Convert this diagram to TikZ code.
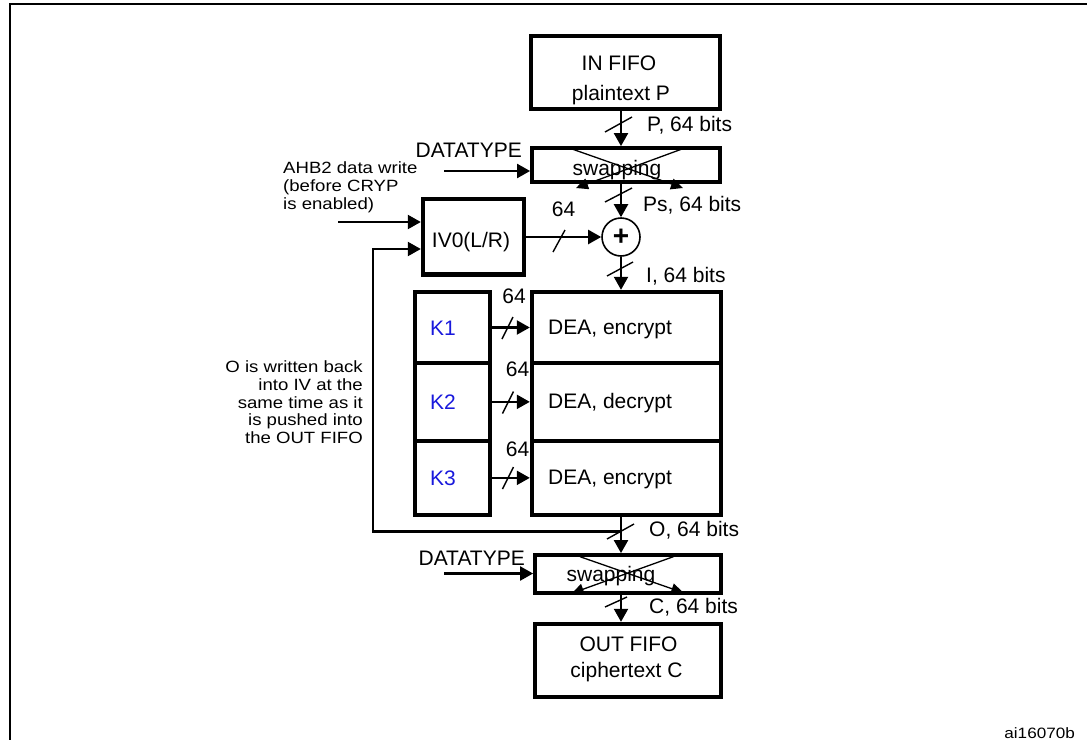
\documentclass[tikz,border=0pt]{standalone}
\usepackage{fontspec}
\setmainfont{Liberation Sans}
\newfontfamily\stretchfont[FakeStretch=1.14]{Liberation Sans}
\usetikzlibrary{arrows.meta}
\definecolor{kblue}{RGB}{25,25,220}
\newcommand{\bigtxt}{\fontsize{21}{25}\selectfont}
\newcommand{\smalltxt}{\stretchfont\fontsize{16.3}{17.9}\selectfont}
\newcommand{\tinytxt}{\stretchfont\fontsize{15}{17}\selectfont}
\begin{document}
\begin{tikzpicture}[x=1pt,y=-1pt,
  box/.style={draw, line width=4.4pt, inner sep=0pt},
  arr/.style={line width=2.2pt, -{Triangle[length=13pt,width=14pt]}},
  thinarr/.style={line width=1.3pt, -{Triangle[length=12pt,width=11pt]}},
  wire/.style={line width=2.2pt},
  slash/.style={line width=1.4pt},
  lbl/.style={font=\bigtxt, inner sep=0pt},
  klbl/.style={lbl, text=kblue, anchor=base}]
\useasboundingbox (0,0) rectangle (1087,739);
\begin{scope}
\clip (0,0) rectangle (1087,739);
\draw[line width=2.5pt] (10,4) rectangle (1110,760);
\end{scope}
% main column x
\coordinate (xm) at (621,0);
% boxes
\node[box, minimum width=189pt, minimum height=73pt] (infifo) at (625.5,72.5) {};
\node[box, line width=3.8pt, minimum width=188pt, minimum height=34pt] (swap1) at (626,165) {};
\node[box, minimum width=101pt, minimum height=75.5pt] (iv) at (473.5,236.75) {};
\node[draw, line width=1.6pt, circle, minimum size=38pt, inner sep=0pt] (xor) at (621,237) {};
\node[font=\fontsize{28}{28}\selectfont\bfseries, inner sep=0pt] (plus) at (xor.center) {+};
\node[box, minimum width=75pt, minimum height=71pt] (k1) at (452.5,327.5) {};
\node[box, minimum width=75pt, minimum height=77.7pt] (k2) at (452.5,401.85) {};
\node[box, minimum width=75pt, minimum height=74.3pt] (k3) at (452.5,477.85) {};
\node[box, minimum width=189pt, minimum height=71pt] (d1) at (626.5,327.5) {};
\node[box, minimum width=189pt, minimum height=77.7pt] (d2) at (626.5,401.85) {};
\node[box, minimum width=189pt, minimum height=74.3pt] (d3) at (626.5,477.85) {};
\node[box, line width=3.8pt, minimum width=186pt, minimum height=38pt] (swap2) at (628,574) {};
\node[box, minimum width=186pt, minimum height=73pt] (outfifo) at (628,660.5) {};
% texts
\node[lbl, anchor=base] (in1) at (619,70) {IN FIFO};
\node[lbl, anchor=base] (in2) at (621,100.5) {plaintext P};
\node[lbl, anchor=base west] (lP) at (647,131.5) {P, 64 bits};
\node[lbl, anchor=base east] (dt1) at (522,157) {DATATYPE};
\node[lbl, anchor=base] (sw1) at (617,175) {swapping};
\node[lbl, anchor=base west] (lPs) at (643,211) {Ps, 64 bits};
\node[lbl, anchor=base] (l64a) at (563.5,216) {64};
\node[lbl, anchor=base] (ivt) at (471,247) {IV0(L/R)};
\node[lbl, anchor=base west] (lI) at (646,282.5) {I, 64 bits};
\node[klbl] (k1t) at (443,335) {K1};
\node[klbl] (k2t) at (443,409) {K2};
\node[klbl] (k3t) at (443,485) {K3};
\node[lbl, anchor=base west] (d1t) at (548,334.5) {DEA, encrypt};
\node[lbl, anchor=base west] (d2t) at (548,408.5) {DEA, decrypt};
\node[lbl, anchor=base west] (d3t) at (548,484) {DEA, encrypt};
\node[lbl, anchor=base] (l64b) at (514,303) {64};
\node[lbl, anchor=base] (l64c) at (517.5,376) {64};
\node[lbl, anchor=base] (l64d) at (517.5,456) {64};
\node[lbl, anchor=base west] (lO) at (649,536) {O, 64 bits};
\node[lbl, anchor=base east] (dt2) at (525,565) {DATATYPE};
\node[lbl, anchor=base] (sw2) at (611,581.5) {swapping};
\node[lbl, anchor=base west] (lC) at (649,613) {C, 64 bits};
\node[lbl, anchor=base] (out1) at (628.5,651) {OUT FIFO};
\node[lbl, anchor=base] (out2) at (626.5,677) {ciphertext C};
\node[font=\smalltxt, inner sep=0pt, align=left, anchor=north west] (ahb) at (283,161.3)
  {AHB2 data write\\(before CRYP\\is enabled)};
\node[font=\smalltxt, inner sep=0pt, align=right, anchor=north east] (owb) at (363,360.2)
  {O is written back\\into IV at the\\same time as it\\is pushed into\\the OUT FIFO};
\node[font=\tinytxt, inner sep=0pt, anchor=base east] (ai) at (1075,738) {ai16070b};
% swapping crosses
\draw[thinarr] (572,149) -- (683,188);
\draw[thinarr] (682,149) -- (576,188);
\draw[thinarr] (580,556.7) -- (683.3,592.7);
\draw[thinarr] (673.3,556.7) -- (571.7,593.3);
% connectors
\draw[arr] (infifo.south -| xm) -- (swap1.north -| xm);
\draw[arr] (swap1.south -| xm) -- (xor.north);
\draw[arr] (xor.south) -- (d1.north -| xm);
\draw[arr] (iv.east |- xor) -- (xor.west);
\draw[arr] (k1.east) -- (d1.west);
\draw[arr] (k2.east) -- (d2.west);
\draw[arr] (k3.east) -- (d3.west);
\draw[arr] (d3.south -| xm) -- (swap2.north -| xm);
\draw[arr] (swap2.south -| xm) -- (outfifo.north -| xm);
\coordinate (fb) at (621,531.5);
\coordinate (fbl) at (373,531.5);
\coordinate (fbin) at (0,249);
\draw[arr] (fb) -- (fbl) |- (iv.west |- fbin);
\coordinate (ahbs) at (338,222);
\draw[arr] (ahbs) -- (iv.west |- ahbs);
\coordinate (dts1) at (444,171);
\draw[arr] (dts1) -- (swap1.west |- dts1);
\coordinate (dts2) at (444,573.5);
\draw[arr] (dts2) -- (swap2.west |- dts2);
% bus slashes
\coordinate (s1) at (618.5,124.5);
\draw[slash] (s1) ++(-13.5,7.5) -- ++(27,-15);
\coordinate (s2) at (618.5,195);
\draw[slash] (s2) ++(-13.5,7) -- ++(27,-14);
\coordinate (s3) at (559,241);
\draw[slash] (s3) ++(-6,11) -- ++(12,-22);
\coordinate (s4) at (620,269);
\draw[slash] (s4) ++(-13,7) -- ++(26,-14);
\coordinate (sk1) at (507.5,328);
\draw[slash] (sk1) ++(-5.5,11) -- ++(11,-22);
\coordinate (sk2) at (508,402.5);
\draw[slash] (sk2) ++(-5.5,11) -- ++(11,-22);
\coordinate (sk3) at (508,478);
\draw[slash] (sk3) ++(-5.5,11) -- ++(11,-22);
\coordinate (s5) at (620.5,531.5);
\draw[slash] (s5) ++(-13.5,7.5) -- ++(27,-15);
\coordinate (s6) at (616,602);
\draw[slash] (s6) ++(-11,5) -- ++(22,-10);
\end{tikzpicture}
\end{document}
